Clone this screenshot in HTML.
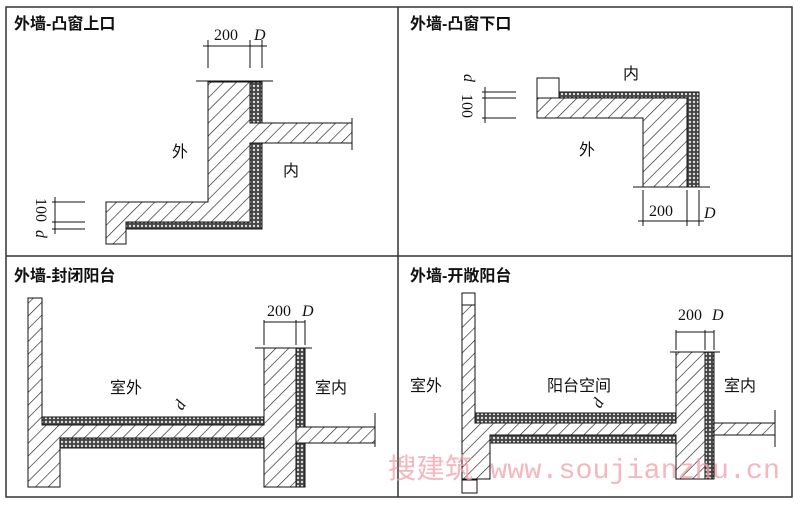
<!DOCTYPE html>
<html><head><meta charset="utf-8"><style>
html,body{margin:0;padding:0;background:#fff;}
svg{display:block;}
text{font-family:"Liberation Serif","Noto Serif CJK SC",serif;fill:#111;}
.cn{font-family:"Liberation Sans","Noto Sans CJK SC",sans-serif;font-size:16px;}
.t{font-family:"Liberation Sans","Noto Sans CJK SC",sans-serif;font-size:16px;font-weight:bold;}
.n{font-size:16px;}
</style></head><body>
<svg width="800" height="505" viewBox="0 0 800 505" xmlns="http://www.w3.org/2000/svg">
<defs>
<pattern id="h" patternUnits="userSpaceOnUse" width="9" height="9" patternTransform="rotate(45)">
<rect width="9" height="9" fill="#fff"/><line x1="0" y1="0" x2="0" y2="9" stroke="#222" stroke-width="1.3"/></pattern>
<pattern id="ins" patternUnits="userSpaceOnUse" width="4" height="4">
<rect width="4" height="4" fill="#444"/><circle cx="2" cy="2" r="1.2" fill="#ddd"/></pattern>
</defs>
<g fill="none" stroke="#333" stroke-width="1.5">
<rect x="6" y="7" width="786" height="490"/>
<line x1="398" y1="7" x2="398" y2="497"/>
<line x1="6" y1="256" x2="792" y2="256"/>
</g>
<text class="t" x="14" y="29">外墙-凸窗上口</text>
<text class="t" x="410" y="29">外墙-凸窗下口</text>
<text class="t" x="14" y="281">外墙-封闭阳台</text>
<text class="t" x="410" y="281">外墙-开敞阳台</text>

<!-- Q1 -->
<g stroke="#111" stroke-width="1">
<path d="M208 82 H250 V123 H352 V143 H250 V222 H126 V244 H106 V202 H208 Z" fill="url(#h)"/>
<rect x="250" y="82" width="12" height="41" fill="url(#ins)"/>
<path d="M250 143 H262 V229 H126 V222 H250 Z" fill="url(#ins)"/>
<line x1="196" y1="81" x2="273" y2="81"/>
<line x1="208" y1="40" x2="208" y2="68"/><line x1="250" y1="40" x2="250" y2="68"/><line x1="262" y1="40" x2="262" y2="68"/>
<line x1="203" y1="46" x2="267" y2="46"/>
<line x1="352" y1="118" x2="352" y2="150"/>
<line x1="52" y1="202" x2="85" y2="202"/><line x1="52" y1="222" x2="85" y2="222"/><line x1="52" y1="229" x2="85" y2="229"/>
<line x1="55" y1="197" x2="55" y2="234"/>
</g>
<text class="n" x="214" y="40">200</text><text class="n" x="254" y="40" font-style="italic">D</text>
<text class="n" transform="translate(36,198) rotate(90)">100</text>
<text class="n" transform="translate(36,230) rotate(90)" font-style="italic">d</text>
<text class="cn" x="172" y="157">外</text><text class="cn" x="283" y="176">内</text>

<!-- Q2 -->
<g stroke="#111" stroke-width="1">
<path d="M537 98 H687 V187 H643 V118 H537 Z" fill="url(#h)"/>
<rect x="537" y="78" width="22" height="20" fill="#fff"/>
<path d="M559 92 H699 V187 H687 V98 H559 Z" fill="url(#ins)"/>
<line x1="633" y1="187" x2="710" y2="187"/>
<line x1="643" y1="190" x2="643" y2="226"/><line x1="687" y1="190" x2="687" y2="226"/><line x1="699" y1="190" x2="699" y2="226"/>
<line x1="638" y1="221" x2="704" y2="221"/>
<line x1="482" y1="92" x2="516" y2="92"/><line x1="482" y1="98" x2="516" y2="98"/><line x1="482" y1="118" x2="516" y2="118"/>
<line x1="485" y1="87" x2="485" y2="123"/>
</g>
<text class="n" x="649" y="216">200</text><text class="n" x="704" y="218" font-style="italic">D</text>
<text class="n" transform="translate(462,94) rotate(90)">100</text>
<text class="n" transform="translate(464,74) rotate(90)" font-style="italic">d</text>
<text class="cn" x="623" y="79">内</text><text class="cn" x="579" y="155">外</text>

<!-- Q3 -->
<g stroke="#111" stroke-width="1">
<path d="M28 298 H42 V425 H264 V348 H296 V487 H264 V438 H60 V487 H28 Z" fill="url(#h)"/>
<rect x="296" y="427" width="79" height="16" fill="url(#h)"/>
<rect x="42" y="417" width="222" height="8" fill="url(#ins)"/>
<rect x="60" y="438" width="204" height="10" fill="url(#ins)"/>
<rect x="296" y="348" width="9" height="79" fill="url(#ins)"/>
<rect x="296" y="443" width="9" height="44" fill="url(#ins)"/>
<line x1="255" y1="348" x2="312" y2="348"/>
<line x1="264" y1="320" x2="264" y2="345"/><line x1="296" y1="320" x2="296" y2="345"/><line x1="305" y1="320" x2="305" y2="345"/>
<line x1="264" y1="322" x2="305" y2="322"/>
<line x1="375" y1="413" x2="375" y2="447"/>
</g>
<text class="n" x="267" y="316">200</text><text class="n" x="302" y="316" font-style="italic">D</text>
<text class="cn" x="110" y="393">室外</text><text class="cn" x="315" y="393">室内</text>
<text class="n" x="176" y="410" font-style="italic" transform="rotate(-60 180 405)">d</text>

<!-- Q4 -->
<g stroke="#111" stroke-width="1">
<path d="M462 293 H475 V423 H676 V352 H705 V479 H676 V435 H490 V479 H462 Z" fill="url(#h)"/>
<rect x="462" y="293" width="13" height="12" fill="#fff"/>
<rect x="462" y="480" width="15" height="13" fill="#fff"/>
<rect x="714" y="423" width="61" height="12" fill="url(#h)"/>
<rect x="475" y="413" width="201" height="10" fill="url(#ins)"/>
<rect x="490" y="435" width="186" height="8" fill="url(#ins)"/>
<rect x="705" y="352" width="9" height="127" fill="url(#ins)"/>
<line x1="670" y1="352" x2="720" y2="352"/>
<line x1="676" y1="330" x2="676" y2="350"/><line x1="705" y1="330" x2="705" y2="350"/><line x1="714" y1="330" x2="714" y2="350"/>
<line x1="676" y1="332" x2="714" y2="332"/>
<line x1="775" y1="410" x2="775" y2="447"/>
</g>
<text class="n" x="678" y="320">200</text><text class="n" x="712" y="320" font-style="italic">D</text>
<text class="cn" x="410" y="391">室外</text><text class="cn" x="547" y="391">阳台空间</text><text class="cn" x="724" y="391">室内</text>
<text class="n" x="594" y="408" font-style="italic" transform="rotate(-60 598 403)">d</text>

<text x="388" y="478" textLength="392" lengthAdjust="spacingAndGlyphs" style="font-family:'Liberation Mono','Noto Sans CJK SC',monospace;font-size:28px;fill:#f2a0a8;opacity:0.75">搜建筑 www.soujianzhu.cn</text>
</svg>
</body></html>
